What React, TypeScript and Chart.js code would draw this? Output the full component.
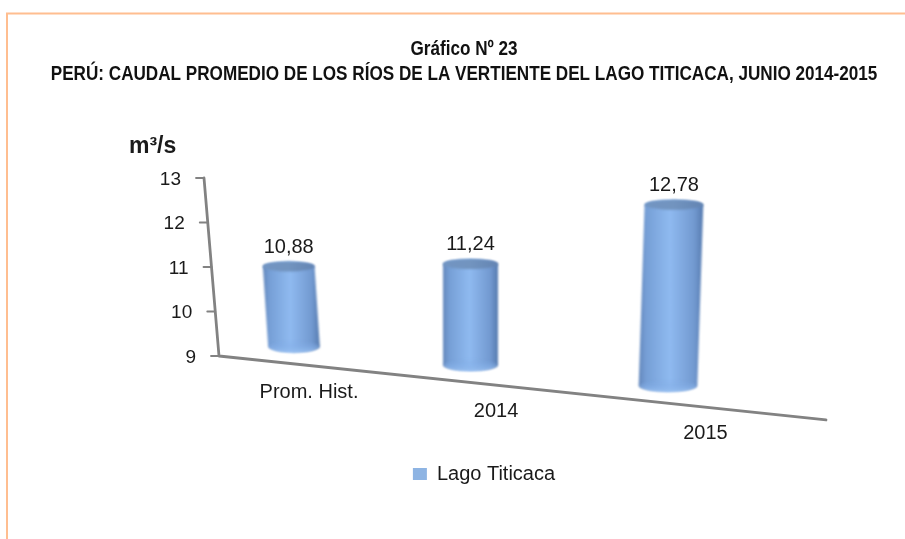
import React, { useEffect, useRef } from "react";
import { Chart, registerables } from "chart.js";

Chart.register(...registerables);

const categories = ["Prom. Hist.", "2014", "2015"];
const seriesName = "Lago Titicaca";
const caudal = [10.88, 11.24, 12.78];
const titleLines = [
  "Gráfico Nº 23",
  "PERÚ: CAUDAL PROMEDIO DE LOS RÍOS DE LA VERTIENTE DEL LAGO TITICACA, JUNIO 2014-2015",
];
const unitLabel = "m³/s";

const SANS = '"Liberation Sans", Arial, sans-serif';
const FLOOR_SLOPE = 0.1054;
const INK = "#1a1a1a";

// The depth of the oblique view widens the spacing of the categories to the right.
function project(px: number, x: any) {
  const mid = (x.getPixelForValue(0) + x.getPixelForValue(x.getLabels().length - 1)) / 2;
  const half = mid - x.getPixelForValue(0);
  const d = (px - mid) / half;
  return px - 10.5 * (1 - d * d);
}

const oblique3D = {
  id: "oblique3D",
  afterLayout(chart: any) {
    const { ctx } = chart;
    // Condense the title like the narrow face of the original, and nudge the legend.
    const title = chart.titleBlock;
    if (title && !title.__wrapped) {
      title.__wrapped = true;
      const drawTitle = title.draw.bind(title);
      const drawArgs = title._drawArgs.bind(title);
      title._drawArgs = (offset: number) => ({ ...drawArgs(offset), maxWidth: 2000 });
      title.draw = () => {
        ctx.save();
        ctx.translate(464.5, 0);
        ctx.scale(0.856, 1);
        ctx.translate(-464.5, 0);
        drawTitle();
        ctx.restore();
      };
    }
    const legend = chart.legend;
    if (legend && !legend.__wrapped) {
      legend.__wrapped = true;
      const drawLegend = legend.draw.bind(legend);
      legend.draw = () => {
        ctx.save();
        ctx.translate(3, 0);
        drawLegend();
        ctx.restore();
      };
    }
  },
  beforeDraw(chart: any) {
    const { ctx, width, height } = chart;
    ctx.save();
    ctx.fillStyle = "#ffffff";
    ctx.fillRect(0, 0, width, height);
    ctx.strokeStyle = "#FFBE90";
    ctx.lineWidth = 2;
    ctx.beginPath();
    ctx.moveTo(7, height);
    ctx.lineTo(7, 13.5);
    ctx.lineTo(width, 13.5);
    ctx.stroke();
    ctx.restore();
  },
  beforeDatasetsDraw(chart: any) {
    const { ctx, scales, chartArea } = chart;
    const y = scales.y;
    const x = scales.x;
    const y9 = y.getPixelForValue(y.min);
    const y13 = y.getPixelForValue(y.max);
    const axisFoot = chartArea.left + 18.5;
    const axisX = (py: number) => axisFoot - (y9 - py) * (15 / (y9 - y13));
    const floorY = (px: number) => y9 + (px - axisFoot) * FLOOR_SLOPE;
    ctx.save();
    ctx.filter = "blur(0.6px)";
    ctx.strokeStyle = "#828282";
    ctx.lineWidth = 2.8;
    ctx.lineCap = "round";
    ctx.lineJoin = "round";
    ctx.beginPath();
    ctx.moveTo(axisX(y13), y13);
    ctx.lineTo(axisFoot, y9);
    const floorEnd = chartArea.right + 64.5;
    ctx.lineTo(floorEnd, floorY(floorEnd));
    ctx.stroke();
    ctx.lineWidth = 1.8;
    y.ticks.forEach((t: any) => {
      const py = y.getPixelForValue(t.value);
      ctx.beginPath();
      ctx.moveTo(axisX(py), py);
      ctx.lineTo(axisX(py) - 8, py);
      ctx.stroke();
    });
    ctx.filter = "none";
    ctx.fillStyle = INK;
    ctx.font = `19px ${SANS}`;
    ctx.textBaseline = "middle";
    ctx.textAlign = "right";
    y.ticks.forEach((t: any) => {
      const py = y.getPixelForValue(t.value);
      ctx.fillText(String(t.value), axisX(py) - 23, py + 1.5);
    });
    ctx.textAlign = "center";
    ctx.font = `20px ${SANS}`;
    x.getLabels().forEach((label: string, i: number) => {
      const fx = project(x.getPixelForValue(i), x);
      const lx = fx + 15 + (fx - 294) * 0.06;
      ctx.fillText(label, lx, floorY(lx) + 26.5);
    });
    ctx.textAlign = "left";
    ctx.font = `bold 23px ${SANS}`;
    ctx.fillText(unitLabel, 129, 147);
    ctx.restore();
  },
  beforeDatasetDraw(chart: any, args: any) {
    const { ctx, scales, chartArea } = chart;
    const y = scales.y;
    const x = scales.x;
    const y9 = y.getPixelForValue(y.min);
    const axisFoot = chartArea.left + 18.5;
    const meta = chart.getDatasetMeta(args.index);
    meta.data.forEach((el: any, i: number) => {
      const fx = project(el.x, x);
      const growth = 0.955 + (fx - 294) * 0.000324;
      const footY = y9 + (fx - axisFoot) * FLOOR_SLOPE - 17.5;
      const topY = footY - (y9 - el.y) * growth;
      const w = el.width * (1 + (fx - 470) * 0.00034);
      const rx = w / 2;
      const lean = (fx - 470) * 0.03;
      const tx = fx + lean;
      const ryTop = 5;
      const ryFoot = 6;

      ctx.save();
      ctx.filter = "blur(1px)";
      const g = ctx.createLinearGradient(Math.min(tx, fx) - rx, 0, Math.max(tx, fx) + rx, 0);
      g.addColorStop(0, "#6488BC");
      g.addColorStop(0.12, "#769FD6");
      g.addColorStop(0.48, "#8FBAF0");
      g.addColorStop(0.86, "#7299D0");
      g.addColorStop(1, "#567BAF");
      ctx.fillStyle = g;
      ctx.beginPath();
      ctx.moveTo(tx - rx, topY);
      ctx.lineTo(fx - rx, footY);
      ctx.ellipse(fx, footY, rx, ryFoot, 0, Math.PI, 0, true);
      ctx.lineTo(tx + rx, topY);
      ctx.ellipse(tx, topY, rx, ryTop, 0, 0, Math.PI, true);
      ctx.closePath();
      ctx.fill();

      const foot = ctx.createLinearGradient(0, footY - ryFoot, 0, footY + ryFoot);
      foot.addColorStop(0, "rgba(120,165,225,0)");
      foot.addColorStop(1, "rgba(150,190,240,0.9)");
      ctx.fillStyle = foot;
      ctx.beginPath();
      ctx.ellipse(fx, footY, rx - 1, ryFoot, 0, 0, Math.PI * 2);
      ctx.fill();

      const cap = ctx.createLinearGradient(tx - rx, 0, tx + rx, 0);
      cap.addColorStop(0, "#7295C2");
      cap.addColorStop(0.5, "#7294BF");
      cap.addColorStop(1, "#6384B2");
      ctx.fillStyle = cap;
      ctx.beginPath();
      ctx.ellipse(tx, topY, rx, ryTop, 0, 0, Math.PI * 2);
      ctx.fill();
      ctx.restore();

      ctx.save();
      ctx.fillStyle = INK;
      ctx.font = `20px ${SANS}`;
      ctx.textAlign = "center";
      ctx.textBaseline = "middle";
      ctx.fillText(caudal[i].toFixed(2).replace(".", ","), tx, topY - 19.5);
      ctx.restore();
    });
    return false;
  },
};

export default function App() {
  const ref = useRef<HTMLCanvasElement>(null);
  useEffect(() => {
    const chart = new Chart(ref.current as HTMLCanvasElement, {
      type: "bar",
      data: {
        labels: categories,
        datasets: [
          {
            label: seriesName,
            data: caudal,
            backgroundColor: "#8EB4E3",
            barThickness: 55,
            yAxisID: "y",
          },
        ],
      },
      options: {
        responsive: false,
        animation: false,
        layout: { padding: { left: 23, right: 0, top: 0, bottom: 45 } },
        scales: {
          x: {
            grid: { display: false },
            border: { display: false },
            ticks: { display: false },
            afterFit(s: any) {
              s.height = 98;
            },
          },
          y: {
            min: 9,
            max: 13,
            ticks: { display: false, stepSize: 1 },
            grid: { display: false },
            border: { display: false },
            afterFit(s: any) {
              s.width = 177.5;
            },
          },
          y2: {
            position: "right",
            min: 9,
            max: 13,
            ticks: { display: false },
            grid: { display: false },
            border: { display: false },
            afterFit(s: any) {
              s.width = 143.5;
            },
          },
        },
        plugins: {
          tooltip: { enabled: false },
          title: {
            display: true,
            text: titleLines,
            color: "#111111",
            font: { family: SANS, size: 20, weight: "bold", lineHeight: 1.25 },
            padding: { top: 37, bottom: 91 },
          },
          legend: {
            position: "bottom",
            fullSize: false,
            labels: {
              boxWidth: 14,
              boxHeight: 12,
              color: INK,
              font: { family: SANS, size: 20 },
              padding: 10,
            },
          },
        },
      } as any,
      plugins: [oblique3D],
    });
    return () => chart.destroy();
  }, []);
  return (
    <div style={{ position: "fixed", left: 0, top: 0, width: 905, height: 539 }}>
      <canvas ref={ref} width={905} height={539} style={{ display: "block" }} />
    </div>
  );
}
